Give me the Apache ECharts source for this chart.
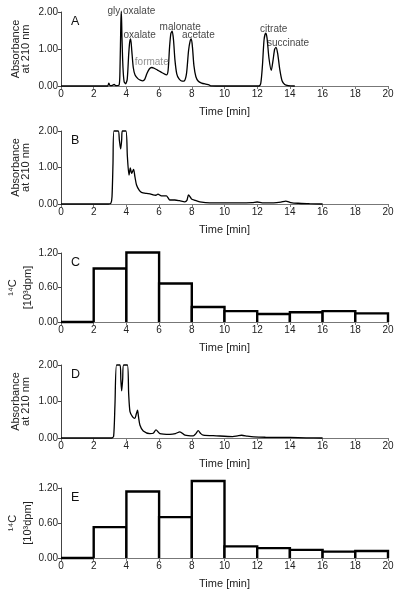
<!DOCTYPE html>
<html><head><meta charset="utf-8">
<script src="https://cdn.jsdelivr.net/npm/echarts@6/dist/echarts.min.js"></script>
<style>html,body{margin:0;padding:0;background:#fff}#c{width:402px;height:598px}</style>
</head><body><div id="c"></div>
<script>
// ---- data ----
const xTicks = [0,2,4,6,8,10,12,14,16,18,20];
const absTicks = [0,1,2];
const dpmTicks = [0,0.6,1.2];

const traceA = [[0,0],[2.85,0],[2.92,0.08],[3.0,0.01],[3.15,0.02],[3.25,0.04],[3.35,0.01],[3.55,0.02],[3.61,0.5],[3.66,1.7],[3.69,2.02],[3.73,1.3],[3.79,0.5],[3.86,0.12],[3.95,0.06],[4.05,0.18],[4.14,0.85],[4.2,1.18],[4.26,1.27],[4.33,0.95],[4.42,0.5],[4.53,0.3],[4.7,0.2],[4.85,0.16],[5.0,0.14],[5.12,0.18],[5.25,0.33],[5.4,0.46],[5.55,0.5],[5.7,0.48],[5.9,0.43],[6.1,0.38],[6.3,0.33],[6.45,0.3],[6.55,0.42],[6.64,1.05],[6.72,1.42],[6.8,1.48],[6.88,1.25],[6.97,0.7],[7.08,0.33],[7.22,0.19],[7.4,0.13],[7.55,0.14],[7.68,0.35],[7.8,0.95],[7.9,1.22],[7.97,1.27],[8.04,1.05],[8.13,0.55],[8.25,0.25],[8.4,0.13],[8.6,0.08],[8.85,0.05],[9.05,0.03],[9.15,0.005],[10,0],[12.1,0],[12.22,0.08],[12.32,0.55],[12.42,1.25],[12.52,1.43],[12.6,1.3],[12.72,0.75],[12.86,0.42],[12.97,0.7],[13.07,1.0],[13.15,1.04],[13.25,0.88],[13.38,0.45],[13.52,0.14],[13.68,0.04],[13.9,0.01],[14.3,0]];

const traceB = [[0,0],[2.9,0],[3.05,0.02],[3.12,0.2],[3.18,1.1],[3.24,2.0],[3.5,2.0],[3.57,1.75],[3.65,1.51],[3.71,1.75],[3.75,2.0],[3.97,2.0],[4.06,1.3],[4.16,0.79],[4.24,0.99],[4.32,0.84],[4.44,0.95],[4.52,0.75],[4.62,0.52],[4.78,0.38],[4.92,0.32],[5.23,0.29],[5.45,0.28],[5.63,0.25],[5.8,0.24],[5.93,0.27],[6.14,0.22],[6.45,0.22],[6.55,0.17],[6.65,0.11],[6.96,0.11],[7.25,0.09],[7.57,0.06],[7.7,0.1],[7.8,0.25],[7.98,0.14],[8.2,0.1],[8.49,0.06],[9.1,0.03],[10,0.03],[11,0.03],[11.7,0.04],[12.0,0.055],[12.3,0.03],[13.0,0.03],[13.45,0.05],[13.75,0.08],[14.05,0.04],[14.5,0.02],[15.2,0.01],[16,0]];

const traceD = [[0,0],[3.1,0],[3.22,0.05],[3.3,0.9],[3.4,2.0],[3.61,2.0],[3.66,1.6],[3.71,1.29],[3.77,1.6],[3.83,2.0],[4.06,2.0],[4.14,1.2],[4.22,0.72],[4.38,0.58],[4.52,0.54],[4.6,0.65],[4.68,0.76],[4.75,0.55],[4.83,0.35],[5.03,0.19],[5.44,0.12],[5.64,0.13],[5.81,0.22],[6.05,0.12],[6.66,0.1],[7.0,0.12],[7.27,0.17],[7.58,0.08],[8.09,0.06],[8.25,0.12],[8.39,0.2],[8.55,0.12],[8.7,0.08],[9.5,0.06],[10.5,0.04],[10.8,0.06],[11.05,0.075],[11.4,0.05],[11.8,0.03],[12.5,0.02],[14.0,0.015],[15.0,0.005],[16,0]];

const binStarts = [0,2,4,6,8,10,12,14,16,18];
const binEnds   = [2,4,6,8,10,12,14,16,18,20];
const dpmC = [0,0.93,1.21,0.67,0.26,0.19,0.14,0.17,0.19,0.15];
const dpmE = [0,0.53,1.14,0.70,1.32,0.20,0.17,0.14,0.11,0.12];

const peakNames   = ['gly oxalate','oxalate','formate','malonate','acetate','citrate','succinate'];
const peakTimes   = [3.69,4.26,5.55,6.80,7.97,12.52,13.15];
const peakHeights = [2.02,1.27,0.50,1.48,1.27,1.43,1.04];
const panelLetters = ['A','B','C','D','E'];

// ---- layout / style ----
const FONT = 'Liberation Sans, Arial, sans-serif';
const labelOffsets = {'gly oxalate':[10,0],'oxalate':[9,-4],'formate':[0,-5],'malonate':[8,-4],'acetate':[7,-4],'citrate':[8,-4],'succinate':[12,-4]};
const labelColors = {'formate':'#777'};
const grids = [
  {left:61,right:14,top:12,height:74,outerBoundsMode:'none',containLabel:false},
  {left:61,right:14,top:131,height:73,outerBoundsMode:'none',containLabel:false},
  {left:61,right:14,top:253,height:69,outerBoundsMode:'none',containLabel:false},
  {left:61,right:14,top:365,height:73,outerBoundsMode:'none',containLabel:false},
  {left:61,right:14,top:488,height:70,outerBoundsMode:'none',containLabel:false}
];
const isDpm = [false,false,true,false,true];

function xAxis(i){
  return {gridIndex:i,type:'value',min:xTicks[0],max:xTicks[xTicks.length-1],interval:xTicks[1]-xTicks[0],
    name:'Time [min]',nameLocation:'middle',nameGap:20,nameMoveOverlap:false,
    nameTextStyle:{fontFamily:FONT,fontSize:11,color:'#222'},
    axisLine:{lineStyle:{color:'#777',width:1}},
    axisTick:{show:true,length:3,lineStyle:{color:'#777'}},
    axisLabel:{fontFamily:FONT,fontSize:10,color:'#222',margin:3},
    splitLine:{show:false}};
}
function yAxis(i){
  const t = isDpm[i] ? dpmTicks : absTicks;
  return {gridIndex:i,type:'value',min:t[0],max:t[t.length-1],interval:t[1]-t[0],
    name: isDpm[i] ? '¹⁴C\n[10³dpm]' : 'Absorbance\nat 210 nm',
    nameLocation:'middle',nameGap: isDpm[i] ? 26 : 30,nameMoveOverlap:false,
    nameTextStyle:{fontFamily:FONT,fontSize:11,color:'#222',lineHeight: isDpm[i]?15:10},
    axisLine:{lineStyle:{color:'#444',width:1}},
    axisTick:{show:true,length:3,lineStyle:{color:'#444'}},
    axisLabel:{fontFamily:FONT,fontSize:10,color:'#222',margin:3,formatter:v=>v.toFixed(2)},
    splitLine:{show:false}};
}
function lineSeries(i,data){
  return {type:'line',xAxisIndex:i,yAxisIndex:i,data:data,showSymbol:false,symbol:'none',smooth:0.25,clip:false,
    lineStyle:{color:'#000',width:1.3},z:3,animation:false};
}
function renderBin(params, api){
  const x0 = api.value(0), x1 = api.value(1), v = api.value(2);
  const p0 = api.coord([x0,0]), p1 = api.coord([x1,v]);
  return {type:'group',children:[
    {type:'rect',shape:{x:p0[0],y:p1[1],width:p1[0]-p0[0],height:p0[1]-p1[1]},style:{fill:'#fff'}},
    {type:'polyline',shape:{points:[[p0[0],p0[1]],[p0[0],p1[1]],[p1[0],p1[1]],[p1[0],p0[1]]]},
     style:{stroke:'#000',lineWidth:2.4,fill:null,lineJoin:'miter'}}
  ]};
}
function binSeries(i,vals){
  return {type:'custom',xAxisIndex:i,yAxisIndex:i,renderItem:renderBin,clip:false,
    encode:{x:[0,1],y:2},
    data:binStarts.map((s,k)=>[s,binEnds[k],vals[k]]),z:3,animation:false};
}

const series = [
  lineSeries(0,traceA),
  lineSeries(1,traceB),
  binSeries(2,dpmC),
  lineSeries(3,traceD),
  binSeries(4,dpmE),
  {type:'scatter',xAxisIndex:0,yAxisIndex:0,symbolSize:0,z:5,animation:false,clip:false,
   data:peakNames.map((n,k)=>({value:[peakTimes[k],peakHeights[k]],name:n,
     label:{show:true,position:'inside',formatter:n,offset:labelOffsets[n],
       fontFamily:FONT,fontSize:10,color:labelColors[n]||'#111'}}))}
];

const graphics = panelLetters.map((L,i)=>({type:'text',left:71,top:grids[i].top+3,z:10,
  style:{text:L,font:'12.5px '+FONT,fill:'#111'}}));

const chart = echarts.init(document.getElementById('c'),null,{renderer:'canvas'});
chart.setOption({
  backgroundColor:'#fff',animation:false,
  grid:grids,
  xAxis:grids.map((g,i)=>xAxis(i)),
  yAxis:grids.map((g,i)=>yAxis(i)),
  series:series,
  graphic:graphics
});
</script></body></html>
